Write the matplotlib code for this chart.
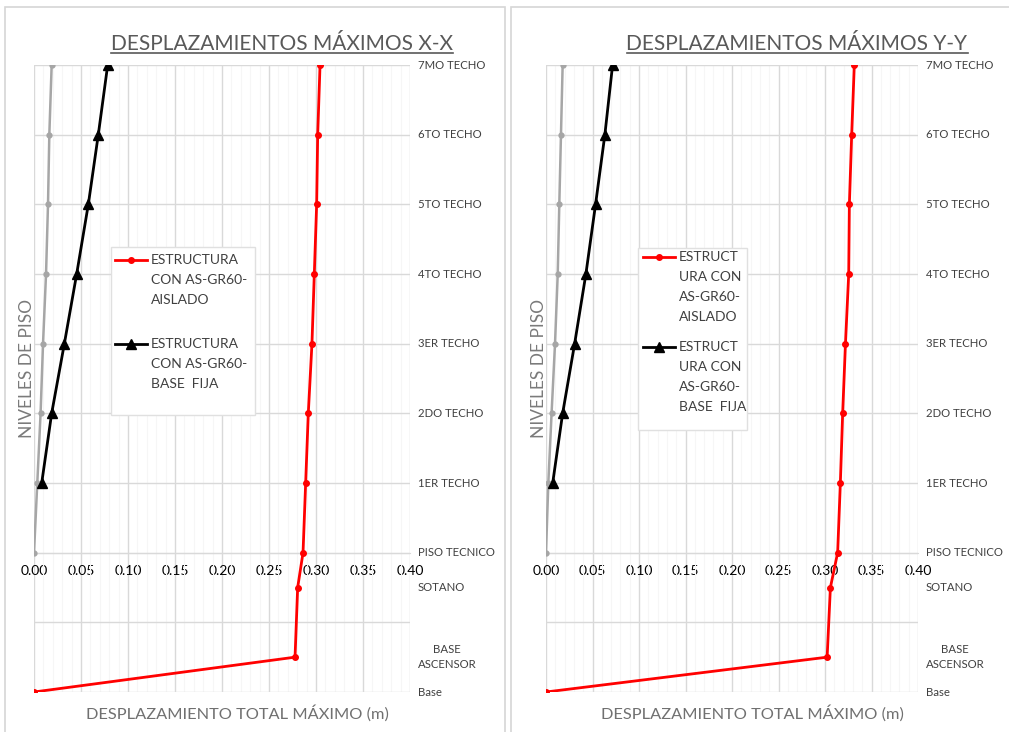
import matplotlib.pyplot as plt
from matplotlib.lines import Line2D
from matplotlib.patches import Rectangle

plt.rcParams['font.family'] = ['Lato', 'DejaVu Sans']

# niveles del edificio (eje vertical)
niveles = [0, 0.5, 1.5, 2, 3, 4, 5, 6, 7, 8, 9]
nombres_niveles = ["Base", "BASE\nASCENSOR", "SOTANO", "PISO TECNICO", "1ER TECHO",
                   "2DO TECHO", "3ER TECHO", "4TO TECHO", "5TO TECHO", "6TO TECHO",
                   "7MO TECHO"]
niveles_fija = [3, 4, 5, 6, 7, 8, 9]
niveles_rel = [2, 3, 4, 5, 6, 7, 8, 9]

# direccion X-X
aislado_xx = [0.0, 0.2777, 0.2805, 0.2862, 0.2890, 0.2918, 0.2957, 0.2982, 0.3007, 0.3018, 0.3043]
base_fija_xx = [0.0082, 0.0188, 0.0323, 0.0454, 0.0578, 0.0684, 0.0784]
relativo_xx = [0.0, 0.0035, 0.0070, 0.0096, 0.0128, 0.0149, 0.0163, 0.0188]

# direccion Y-Y
aislado_yy = [0.0, 0.3023, 0.3058, 0.3136, 0.3165, 0.3190, 0.3220, 0.3255, 0.3262, 0.3287, 0.3315]
base_fija_yy = [0.0072, 0.0179, 0.0308, 0.0429, 0.0533, 0.0633, 0.0716]
relativo_yy = [0.0, 0.0025, 0.0060, 0.0097, 0.0126, 0.0143, 0.0161, 0.0179]

x_ticks = [0.0, 0.05, 0.10, 0.15, 0.20, 0.25, 0.30, 0.35, 0.40]

W, H = 1009, 732
fig = plt.figure(figsize=(W / 100, H / 100), dpi=100)

TOP, BOTTOM = 65, 692


def fx(px):
    return px / W


def fy(py):
    return 1 - py / H


# marcos de cada grafico
fig.patches.append(Rectangle((fx(5), fy(733)), fx(500), 726 / H, transform=fig.transFigure,
                             fill=False, edgecolor="#d6d6d6", lw=1.2))
fig.patches.append(Rectangle((fx(511), fy(733)), fx(500), 726 / H, transform=fig.transFigure,
                             fill=False, edgecolor="#d6d6d6", lw=1.2))


def draw_panel(left, right, title, title_cx, aislado, base_fija, relativo, leg_box, leg1, leg2):
    ax = fig.add_axes([fx(left), fy(BOTTOM), fx(right - left), (BOTTOM - TOP) / H])
    ax.set_xlim(0, 0.40)
    ax.set_ylim(0, 9)

    ax.plot(relativo, niveles_rel, color="#a6a6a6", lw=1.8, marker="o", ms=3.5, zorder=3)
    ax.plot(base_fija, niveles_fija, color="black", lw=2, marker="^", ms=6.5, zorder=4)
    ax.plot(aislado, niveles, color="#ff0000", lw=2, marker="o", ms=4, zorder=5)

    ax.set_xticks(x_ticks)
    ax.set_xticklabels([f"{v:.2f}" for v in x_ticks], color="#595959", fontsize=9.5)
    ax.set_xticks([i / 100 for i in range(41)], minor=True)
    ax.set_yticks(range(10))
    ax.set_yticklabels([])
    ax.tick_params(axis="both", which="both", length=0)
    ax.tick_params(axis="x", pad=9)
    ax.grid(True, which="major", color="#d9d9d9", lw=1)
    ax.grid(True, which="minor", axis="x", color="#f6f6f6", lw=0.8)
    ax.set_axisbelow(True)
    for s in ["top", "right", "left"]:
        ax.spines[s].set_visible(False)
    ax.spines["bottom"].set_position(("data", 2))
    ax.spines["bottom"].set_color("#d9d9d9")

    for lv, name in zip(niveles, nombres_niveles):
        ax.text(1.0 + 8 / (right - left), lv, name, transform=ax.get_yaxis_transform(),
                ha="left", va="center", fontsize=8.2, color="#404040",
                multialignment="center", linespacing=1.4)

    # leyenda
    def axx(px):
        return (px - left) / (right - left)

    def axy(py):
        return (BOTTOM - py) / (BOTTOM - TOP)

    bx0, by0, bx1, by1 = leg_box
    ax.add_patch(Rectangle((axx(bx0), axy(by1)), axx(bx1) - axx(bx0), axy(by0) - axy(by1),
                           transform=ax.transAxes, facecolor="white", edgecolor="#e0e0e0",
                           lw=1, zorder=6))
    for (hx0, hx1, ty, lines, color, marker, ms), in [(leg1,), (leg2,)]:
        ax.add_line(Line2D([axx(hx0), axx(hx1)], [axy(ty), axy(ty)], transform=ax.transAxes,
                           color=color, lw=2, zorder=7))
        ax.add_line(Line2D([axx((hx0 + hx1) / 2)], [axy(ty)], transform=ax.transAxes,
                           color=color, marker=marker, ms=ms, zorder=7))
        for i, ln in enumerate(lines):
            ax.text(axx(hx1 + 4), axy(ty + i * 20), ln, transform=ax.transAxes,
                    ha="left", va="center", fontsize=10, color="#404040", zorder=8)

    fig.text(fx(title_cx - 45), fy(713), "DESPLAZAMIENTO TOTAL MÁXIMO (m)", ha="center",
             va="center", fontsize=11.8, color="#707070")
    fig.text(fx(left - 7), fy(368), "NIVELES DE PISO", ha="center", va="center",
             rotation=90, fontsize=12.5, color="#7a7a7a")

    t = fig.text(fx(title_cx), fy(50), title, ha="center", va="baseline",
                 fontsize=15, color="#595959")
    return ax, t


ax1, t1 = draw_panel(34, 410, "DESPLAZAMIENTOS MÁXIMOS X-X", 282,
                     aislado_xx, base_fija_xx, relativo_xx, (111, 247, 255, 415),
                     (115, 147, 260, ["ESTRUCTURA", "CON AS-GR60-", "AISLADO"], "#ff0000", "o", 4),
                     (115, 147, 344, ["ESTRUCTURA", "CON AS-GR60-", "BASE  FIJA"], "black", "^", 6.5))
ax2, t2 = draw_panel(546, 918, "DESPLAZAMIENTOS MÁXIMOS Y-Y", 797,
                     aislado_yy, base_fija_yy, relativo_yy, (638, 248, 747, 430),
                     (643, 675, 257, ["ESTRUCT", "URA CON", "AS-GR60-", "AISLADO"], "#ff0000", "o", 4),
                     (643, 675, 347, ["ESTRUCT", "URA CON", "AS-GR60-", "BASE  FIJA"], "black", "^", 6.5))

# subrayado de los titulos
fig.canvas.draw()
inv = fig.transFigure.inverted()
for t in [t1, t2]:
    bb = t.get_window_extent().transformed(inv)
    yl = fy(52.5)
    fig.add_artist(Line2D([bb.x0, bb.x1], [yl, yl], transform=fig.transFigure,
                          color="#595959", lw=1.2))

fig.savefig("out.png", dpi=100)
